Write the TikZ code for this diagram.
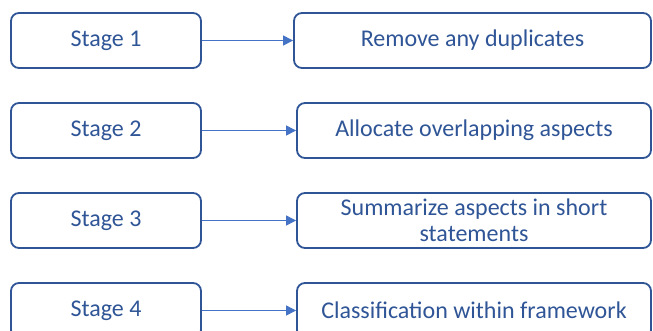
\documentclass[tikz,border=0pt]{standalone}
\usepackage{fontspec}
\setmainfont{Carlito}
\usetikzlibrary{arrows.meta,positioning}
\definecolor{boxblue}{HTML}{2F5597}
\definecolor{arrblue}{HTML}{4472C4}
\tikzstyle{every picture}+=[
  snode/.style={draw=boxblue,line width=1.8pt,rounded corners=8pt,fill=white,text=boxblue,
    minimum width=190pt,minimum height=55pt,inner sep=0pt,font=\fontsize{24}{29}\selectfont},
  tnode/.style={draw=boxblue,line width=1.8pt,rounded corners=8pt,fill=white,text=boxblue,
    minimum width=354pt,minimum height=55pt,inner sep=0pt,align=center,font=\fontsize{24}{29}\selectfont},
  sarrow/.style={draw=arrblue,line width=1pt,-{Triangle[length=10pt,width=10pt]}}
]
\def\rowsep{90}

\begin{document}
\begin{tikzpicture}[x=1pt,y=-1pt]
      \useasboundingbox (0,0) rectangle (653,330);
      \clip (0,0) rectangle (653,330);
      \node[style=snode] (s1) at (106,40.5) {Stage 1};
      \node[style=snode] (s2) at (106,40.5+\rowsep) {Stage 2};
      \node[style=snode] (s3) at (106,40.5+2*\rowsep) {Stage 3};
      \node[style=snode] (s4) at (106,40.5+3*\rowsep) {Stage 4};
      %
      \node[style=tnode,minimum width=357pt] (t1) at (472.5,40.5) {Remove any duplicates};
      \node[style=tnode] (t2) at (474,40.5+\rowsep) {Allocate overlapping aspects};
      \node[style=tnode] (t3) at (474,40.5+2*\rowsep) {Summarize aspects in short\\[-3pt]statements};
      \node[style=tnode] (t4) at (474,40.5+3*\rowsep) {Classification within framework};
      %
      \path[sarrow] (s1) -- (t1);
      \path[sarrow] (s2) -- (t2);
      \path[sarrow] (s3) -- (t3);
      \path[sarrow] (s4) -- (t4);
      %
\end{tikzpicture}
\end{document}
